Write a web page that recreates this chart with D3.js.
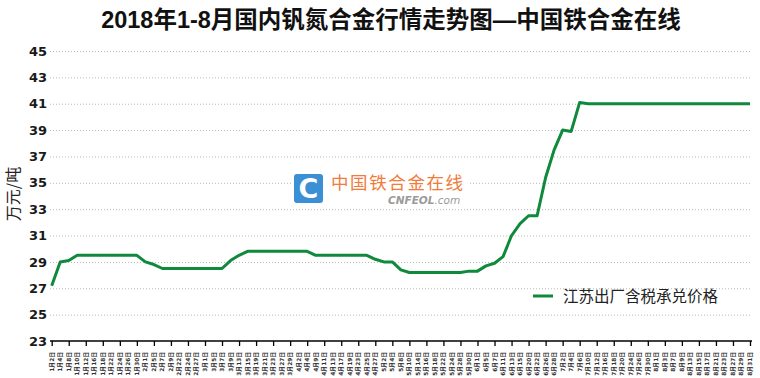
<!DOCTYPE html>
<html><head><meta charset="utf-8">
<script src="https://cdn.jsdelivr.net/npm/d3@7"></script>
<style>body{margin:0;background:#fff}svg{display:block}</style>
</head><body>
<svg id="c" width="760" height="378"></svg>
<script>
const dates = ["1月2日","1月4日","1月8日","1月10日","1月12日","1月16日","1月18日","1月22日","1月24日","1月26日","1月30日",
"2月1日","2月5日","2月7日","2月9日","2月22日","2月24日","2月27日",
"3月1日","3月5日","3月7日","3月9日","3月13日","3月15日","3月19日","3月21日","3月23日","3月27日","3月29日",
"4月2日","4月4日","4月9日","4月11日","4月13日","4月17日","4月19日","4月23日","4月25日","4月27日",
"5月2日","5月4日","5月8日","5月10日","5月14日","5月16日","5月18日","5月22日","5月24日","5月28日","5月30日",
"6月1日","6月5日","6月7日","6月11日","6月13日","6月15日","6月20日","6月22日","6月26日","6月28日",
"7月2日","7月4日","7月6日","7月10日","7月12日","7月16日","7月18日","7月20日","7月24日","7月26日","7月30日",
"8月1日","8月3日","8月7日","8月9日","8月13日","8月15日","8月17日","8月21日","8月23日","8月27日","8月29日","8月31日"];
const prices = [27.2,29.0,29.1,29.5,29.5,29.5,29.5,29.5,29.5,29.5,29.5,
29.0,28.8,28.5,28.5,28.5,28.5,28.5,
28.5,28.5,28.5,29.1,29.5,29.8,29.8,29.8,29.8,29.8,29.8,
29.8,29.8,29.5,29.5,29.5,29.5,29.5,29.5,29.5,29.2,
29.0,29.0,28.4,28.2,28.2,28.2,28.2,28.2,28.2,28.2,28.3,
28.3,28.7,28.9,29.4,31.0,31.9,32.5,32.5,35.4,37.5,
39.0,38.9,41.1,41.0,41.0,41.0,41.0,41.0,41.0,41.0,41.0,
41.0,41.0,41.0,41.0,41.0,41.0,41.0,41.0,41.0,41.0,41.0,41.0];
const yTicks = [23,25,27,29,31,33,35,37,39,41,43,45];
const seriesName = "江苏出厂含税承兑价格";
const titleText = "2018年1-8月国内钒氮合金行情走势图—中国铁合金在线";
const yTitle = "万元/吨";

const svg = d3.select("#c");
const x = d3.scalePoint().domain(dates).range([51.7, 750]);
const y = d3.scaleLinear().domain([23,45]).range([341, 51]);

// title
svg.append("text").attr("x",391).attr("y",28).attr("text-anchor","middle")
  .attr("font-family","'Liberation Sans Narrow','Liberation Sans','Noto Sans CJK SC',sans-serif")
  .attr("font-weight","bold").attr("font-size",23.5).attr("fill","#111").text(titleText);

// gridlines
svg.append("g").selectAll("line").data(yTicks.slice(1)).join("line")
  .attr("x1",50).attr("x2",752).attr("y1",d=>y(d)+0.5).attr("y2",d=>y(d)+0.5)
  .attr("stroke","#b8b8b8").attr("stroke-width",1).attr("stroke-dasharray","1,2");

// y labels
svg.append("g").selectAll("text").data(yTicks).join("text")
  .attr("x",47).attr("y",d=>y(d)).attr("dy","0.36em").attr("text-anchor","end")
  .attr("font-family","'DejaVu Sans',Verdana,sans-serif").attr("font-weight","bold")
  .attr("font-size",13).attr("fill","#1a1a1a").text(d=>d);

// y title
svg.append("text").attr("transform","translate(19,194) rotate(-90)").attr("text-anchor","middle")
  .attr("font-family","'Noto Sans CJK SC',sans-serif").attr("font-size",16).attr("fill","#222").text(yTitle);

// watermark
const wm = svg.append("g");
wm.append("rect").attr("x",292).attr("y",170).attr("width",176).attr("height",36).attr("fill","#fff");
wm.append("rect").attr("x",294).attr("y",174).attr("width",29).attr("height",29).attr("rx",3).attr("fill","#3b8fd4");
wm.append("text").attr("x",308.5).attr("y",197.5).attr("text-anchor","middle")
  .attr("font-family","'DejaVu Sans',sans-serif").attr("font-weight","bold").attr("font-size",27).attr("fill","#fff").text("C");
wm.append("text").attr("x",331).attr("y",189).attr("font-family","'Noto Sans CJK SC',sans-serif")
  .attr("font-size",17.5).attr("letter-spacing",1.6).attr("fill","#f07b3a").text("中国铁合金在线");
const wt = wm.append("text").attr("x",388).attr("y",204).attr("font-family","'DejaVu Sans',sans-serif")
  .attr("font-size",10.5).attr("font-style","italic").attr("fill","#9a9a9a");
wt.append("tspan").attr("font-weight","bold").text("CNFEOL");
wt.append("tspan").text(".com");

// x axis
const xAxis = d3.axisBottom(x).tickSize(5).tickFormat("")
  .tickValues(dates.filter((d,i)=>i%2===0));
const gx = svg.append("g").attr("transform","translate(0,341)").call(xAxis);
gx.select(".domain").attr("d","M50,0H752").attr("stroke","#000").attr("stroke-width",1.5);
gx.selectAll(".tick line").attr("stroke","#000").attr("stroke-width",1.3);

// x labels
svg.append("g").selectAll("text").data(dates).join("text")
  .attr("transform",d=>`translate(${x(d)+2},352) rotate(-90)`).attr("text-anchor","end")
  .attr("font-family","'DejaVu Sans','Noto Sans CJK SC',sans-serif").attr("font-weight","bold")
  .attr("font-size",5.8).attr("fill","#333").text(d=>d);

// line
const line = d3.line().x((d,i)=>x(dates[i])).y(d=>y(d));
svg.append("path").datum(prices).attr("d",line).attr("fill","none")
  .attr("stroke","#0f893c").attr("stroke-width",3).attr("stroke-linejoin","round");

// legend
svg.append("line").attr("x1",533).attr("x2",553).attr("y1",296).attr("y2",296)
  .attr("stroke","#0f893c").attr("stroke-width",3);
svg.append("text").attr("x",563).attr("y",301.5).attr("font-family","'Noto Sans CJK SC',sans-serif")
  .attr("font-size",15.5).attr("fill","#222").text(seriesName);
</script>
</body></html>
